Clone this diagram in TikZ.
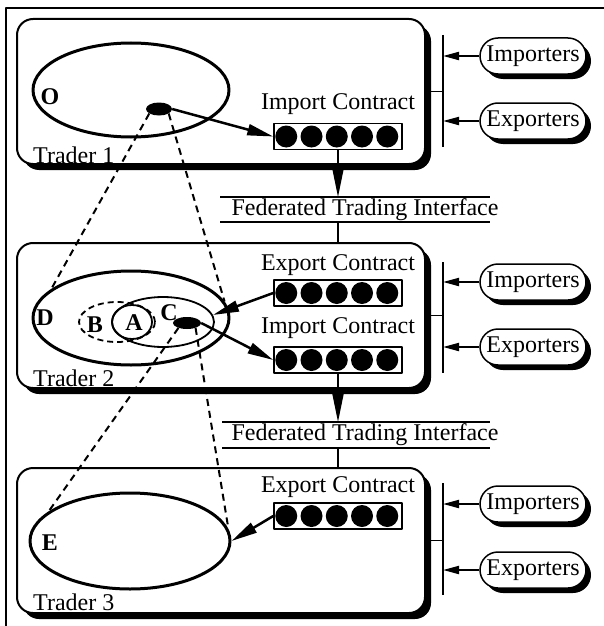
\documentclass[tikz,border=0pt]{standalone}
\usepackage{fontspec}
\setmainfont{Liberation Serif}
\usetikzlibrary{shapes.geometric,shapes.misc,shadows,arrows.meta,calc}
\begin{document}
\begin{tikzpicture}[x=1pt,y=-1pt,font=\fontsize{24}{28}\selectfont,line join=round,
 trader/.style={draw,line width=2pt,rounded corners=16pt,minimum width=408pt,minimum height=145pt,fill=white,
   drop shadow={shadow xshift=6pt,shadow yshift=-6pt,fill=black,opacity=1},anchor=north west,inner sep=0pt},
 pill/.style={rounded rectangle,draw,line width=1.5pt,fill=white,minimum width=110pt,minimum height=36pt,inner sep=2pt,
   drop shadow={shadow xshift=5pt,shadow yshift=-5pt,fill=black,opacity=1}},
 contract/.style={draw,line width=1.5pt,minimum width=128pt,minimum height=26pt,inner sep=0pt,fill=white},
 lbl/.style={inner sep=0pt},
 letter/.style={inner sep=0pt,font=\fontsize{24}{28}\selectfont\bfseries},
 bigell/.style={ellipse,draw,line width=3pt,inner sep=0pt},
 thinell/.style={ellipse,draw,line width=1.8pt,inner sep=0pt},
 dot/.style={ellipse,fill=black,inner sep=0pt},
 projline/.style={line width=2pt,dash pattern=on 7pt off 5pt},
 thickarr/.style={line width=2.5pt,-{Triangle[length=26pt,width=11pt]}},
 downarr/.style={line width=1.5pt,-{Triangle[length=28pt,width=11pt]}},
 smallarr/.style={line width=2pt,-{Triangle[length=16pt,width=8pt]}},
 rule/.style={line width=1.5pt}
]
\useasboundingbox (0,0) rectangle (603,626);
\draw[line width=1.2pt] (6,8) rectangle (640,660);

% trader boxes
\node[trader] (t1) at (16,18) {};
\node[trader] (t2) at (16,242) {};
\node[trader] (t3) at (16,467) {};
\node[lbl,anchor=west] (t1l) at (33,155) {Trader 1};
\node[lbl,anchor=west] (t2l) at (33,378) {Trader 2};
\node[lbl,anchor=west] (t3l) at (33,602) {Trader 3};

% contracts
\node[lbl] (ic1l) at (338,104) {Import Contract};
\node[contract] (ic1) at (338,136.5) {};
\node[lbl] (ec2l) at (338,265) {Export Contract};
\node[contract] (ec2) at (338,293) {};
\node[lbl] (ic2l) at (338,328) {Import Contract};
\node[contract] (ic2) at (338,360) {};
\node[lbl] (ec3l) at (338,487) {Export Contract};
\node[contract] (ec3) at (338,516) {};
\foreach \c in {ic1,ec2,ic2,ec3}{
  \foreach \i in {0,...,4}{
    \fill ($(\c.west)+(13+25.25*\i,0)$) circle (11pt);
  }
}

% ellipses
\node[bigell,minimum width=196pt,minimum height=94pt] (O) at (131,90) {};
\node[letter] (Ol) at (50,97) {O};
\node[dot,minimum width=26pt,minimum height=13pt] (sm1) at (159,109) {};

\node[bigell,minimum width=196pt,minimum height=94pt] (D) at (131,318) {};
\node[thinell,dash pattern=on 6pt off 4pt,minimum width=76pt,minimum height=40pt] (B) at (117,322) {};
\node[thinell,minimum width=40pt,minimum height=34pt] (A) at (132,322) {};
\node[thinell,minimum width=102pt,minimum height=50pt] (C) at (163,322) {};
\node[letter] (Dl) at (45,318) {D};
\node[letter] (Bl) at (95,325) {B};
\node[letter] (Al) at (134,323) {A};
\node[letter] (Cl) at (169,313) {C};
\node[dot,minimum width=28pt,minimum height=12pt] (sm2) at (187,323) {};

\node[bigell,minimum width=200pt,minimum height=96pt] (E) at (130,541) {};
\node[letter] (El) at (50,543) {E};

% arrows from ellipses to contracts
\draw[thickarr] (sm1.east) -- (ic1.west);
\draw[thickarr] (ec2.west) -- (C.8);
\draw[thickarr] (sm2.east) -- (ic2.west);
\draw[thickarr] (ec3.west) -- (E.east);

% dashed projections
\draw[projline] (sm1.205) -- (D.160);
\draw[projline] (sm1.335) -- (D.10);
\draw[projline] (sm2.210) -- (E.160);
\draw[projline] (sm2.330) -- (E.7);

% federated trading interfaces
\coordinate (f1a) at (220,197); \coordinate (f1b) at (490,197);
\coordinate (f1c) at (220,222); \coordinate (f1d) at (490,222);
\draw[rule] (f1a) -- (f1b);
\draw[rule] (f1c) -- (f1d);
\node[lbl] (fti1) at (365,210) {Federated Trading Interface};
\draw[downarr] (ic1.south) -- (ic1.south |- f1a);
\draw[rule] (ic1.south |- f1c) -- (ic1.south |- t2.north);

\coordinate (f2a) at (222,422); \coordinate (f2b) at (490,422);
\coordinate (f2c) at (222,448); \coordinate (f2d) at (490,448);
\draw[rule] (f2a) -- (f2b);
\draw[rule] (f2c) -- (f2d);
\node[lbl] (fti2) at (365,435) {Federated Trading Interface};
\draw[downarr] (ic2.south) -- (ic2.south |- f2a);
\draw[rule] (ic2.south |- f2c) -- (ic2.south |- t3.north);

% importers / exporters
\node[pill] (imp1) at (533,56) {Importers};
\node[pill] (exp1) at (533,121) {Exporters};
\node[pill] (imp2) at (533,282) {Importers};
\node[pill] (exp2) at (533,347) {Exporters};
\node[pill] (imp3) at (533,504) {Importers};
\node[pill] (exp3) at (533,570) {Exporters};

\coordinate (b1t) at (443,35); \coordinate (b1b) at (443,147);
\coordinate (b2t) at (443,262); \coordinate (b2b) at (443,373);
\coordinate (b3t) at (443,483); \coordinate (b3b) at (443,595);
\draw[rule] (b1t) -- (b1b);
\draw[rule] (b2t) -- (b2b);
\draw[rule] (b3t) -- (b3b);
\draw[rule] (t1.east) -- (t1.east -| b1t);
\draw[rule] (t2.east) -- (t2.east -| b2t);
\draw[rule] (t3.east) -- (t3.east -| b3t);
\draw[smallarr] (imp1.west) -- (imp1.west -| b1t);
\draw[smallarr] (exp1.west) -- (exp1.west -| b1t);
\draw[smallarr] (imp2.west) -- (imp2.west -| b2t);
\draw[smallarr] (exp2.west) -- (exp2.west -| b2t);
\draw[smallarr] (imp3.west) -- (imp3.west -| b3t);
\draw[smallarr] (exp3.west) -- (exp3.west -| b3t);
\end{tikzpicture}
\end{document}
